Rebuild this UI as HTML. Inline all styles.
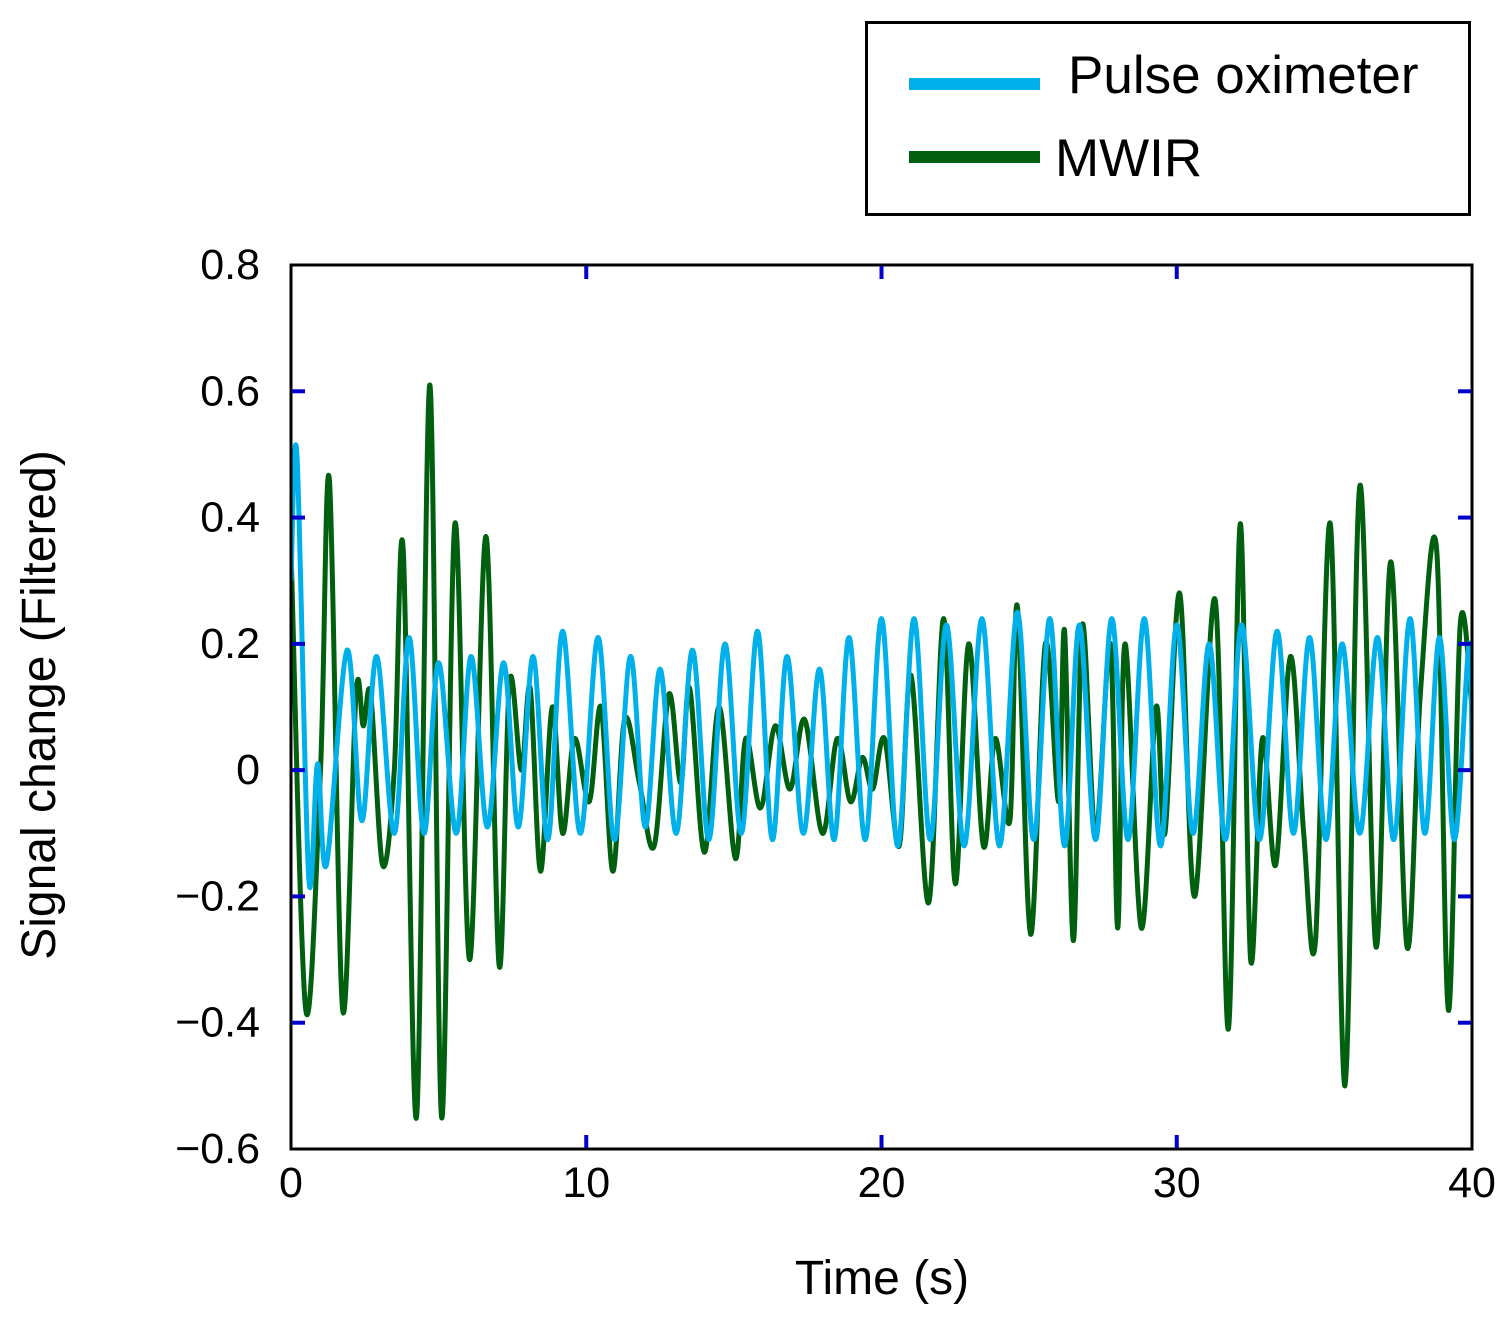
<!DOCTYPE html>
<html><head><meta charset="utf-8">
<style>
body{margin:0;background:#fff;}
svg{display:block;font-family:"Liberation Sans",Arial,sans-serif;}
</style></head>
<body>
<svg id="chart" width="1508" height="1332" viewBox="0 0 1508 1332">
<rect x="0" y="0" width="1508" height="1332" fill="#fff"/>
<g id="plot"></g>
<g id="axes"></g>
<text x="882" y="1294" font-size="48" text-anchor="middle">Time (s)</text>
<text transform="translate(55,705) rotate(-90)" font-size="48" text-anchor="middle">Signal change (Filtered)</text>
<g>
<rect x="866.5" y="22.5" width="603" height="192" fill="#fff" stroke="#000" stroke-width="3"/>
<line x1="909" y1="84" x2="1040" y2="84" stroke="#00b0ea" stroke-width="12"/>
<text x="1068" y="93" font-size="53">Pulse oximeter</text>
<line x1="909" y1="157" x2="1040" y2="157" stroke="#006010" stroke-width="12"/>
<text x="1055" y="176" font-size="53">MWIR</text>
</g>
</svg>
<script>
const xTicks=[0,10,20,30,40];
const yTicks=[0.8,0.6,0.4,0.2,0,-0.2,-0.4,-0.6];
const yTickLabels=["0.8","0.6","0.4","0.2","0","\u22120.2","\u22120.4","\u22120.6"];
const pulseT=[0,0.2,0.6,0.9,1.2,1.9,2.4,2.9,3.5,4.0,4.5,5.0,5.6,6.1,6.65,7.2,7.7,8.2,8.7,9.2,9.8,10.4,10.95,11.5,12.0,12.5,13.05,13.6,14.15,14.7,15.25,15.8,16.3,16.8,17.35,17.9,18.4,18.9,19.45,20.0,20.55,21.1,21.65,22.2,22.8,23.4,24.0,24.6,25.15,25.7,26.2,26.7,27.25,27.8,28.35,28.9,29.45,30.0,30.55,31.1,31.65,32.2,32.8,33.4,33.95,34.5,35.05,35.6,36.2,36.8,37.35,37.9,38.4,38.9,39.4,39.9,40];
const pulseV=[0.3,0.5,-0.17,0.01,-0.15,0.19,-0.08,0.18,-0.1,0.21,-0.1,0.17,-0.1,0.18,-0.09,0.17,-0.09,0.18,-0.11,0.22,-0.1,0.21,-0.11,0.18,-0.09,0.16,-0.1,0.19,-0.11,0.2,-0.1,0.22,-0.11,0.18,-0.1,0.16,-0.11,0.21,-0.11,0.24,-0.12,0.24,-0.11,0.23,-0.12,0.24,-0.12,0.25,-0.11,0.24,-0.12,0.23,-0.11,0.24,-0.11,0.24,-0.12,0.23,-0.1,0.2,-0.11,0.23,-0.11,0.22,-0.1,0.21,-0.11,0.2,-0.1,0.21,-0.11,0.24,-0.1,0.21,-0.11,0.2,0.0];
const mwirT=[0,0.5,1.0,1.3,1.75,2.2,2.45,2.7,3.1,3.5,3.8,4.25,4.7,5.1,5.55,6.05,6.6,7.05,7.4,7.8,8.1,8.45,8.85,9.2,9.6,10.1,10.5,10.9,11.3,11.8,12.3,12.8,13.2,13.5,14.0,14.5,15.05,15.4,15.9,16.4,16.9,17.4,18.0,18.5,18.95,19.35,19.7,20.1,20.6,21.0,21.6,22.1,22.5,22.95,23.45,23.85,24.35,24.6,25.05,25.55,26.0,26.2,26.5,26.8,27.25,27.75,28.0,28.25,28.8,29.3,29.6,30.1,30.6,31.3,31.75,32.15,32.5,32.9,33.35,33.85,34.3,34.7,35.2,35.7,36.2,36.75,37.25,37.8,38.25,38.8,39.2,39.6,40];
const mwirV=[0.35,-0.38,0.0,0.46,-0.38,0.12,0.07,0.12,-0.15,0.0,0.35,-0.55,0.61,-0.55,0.39,-0.3,0.37,-0.31,0.14,0.0,0.13,-0.16,0.1,-0.1,0.05,-0.05,0.1,-0.16,0.08,-0.02,-0.12,0.12,-0.02,0.13,-0.13,0.1,-0.14,0.05,-0.06,0.07,-0.03,0.08,-0.1,0.05,-0.05,0.02,-0.03,0.05,-0.12,0.15,-0.21,0.24,-0.18,0.2,-0.12,0.05,-0.08,0.26,-0.26,0.2,-0.05,0.22,-0.27,0.23,-0.1,0.2,-0.25,0.2,-0.25,0.1,-0.1,0.28,-0.2,0.27,-0.41,0.39,-0.3,0.05,-0.15,0.18,-0.1,-0.27,0.39,-0.5,0.45,-0.28,0.33,-0.28,0.12,0.35,-0.38,0.23,0.1];

const X0=291,X1=1472,Y0=1149,Y1=265,tMin=0,tMax=40,vMin=-0.6,vMax=0.8;
function sx(t){return X0+(t-tMin)/(tMax-tMin)*(X1-X0);}
function sy(v){return Y0-(v-vMin)/(vMax-vMin)*(Y0-Y1);}
const NS="http://www.w3.org/2000/svg";
function mk(tag,attrs,parent){const e=document.createElementNS(NS,tag);for(const k in attrs)e.setAttribute(k,attrs[k]);parent.appendChild(e);return e;}
function smoothPath(ts,vs){
  const p=ts.map((t,i)=>[sx(t),sy(vs[i])]);
  let d="M"+p[0][0].toFixed(1)+","+p[0][1].toFixed(1);
  for(let i=0;i<p.length-1;i++){
    const p0=p[Math.max(0,i-1)],p1=p[i],p2=p[i+1],p3=p[Math.min(p.length-1,i+2)];
    const c1=[p1[0]+(p2[0]-p0[0])/6,p1[1]+(p2[1]-p0[1])/6];
    const c2=[p2[0]-(p3[0]-p1[0])/6,p2[1]-(p3[1]-p1[1])/6];
    d+=" C"+c1[0].toFixed(1)+","+c1[1].toFixed(1)+" "+c2[0].toFixed(1)+","+c2[1].toFixed(1)+" "+p2[0].toFixed(1)+","+p2[1].toFixed(1);
  }
  return d;
}
const plot=document.getElementById('plot');
const axes=document.getElementById('axes');
const cp=mk('clipPath',{id:'clip'},plot);
mk('rect',{x:X0,y:Y1,width:X1-X0,height:Y0-Y1},cp);
const g=mk('g',{'clip-path':'url(#clip)'},plot);
const mw=mk('path',{d:smoothPath(mwirT,mwirV),fill:'none',stroke:'#006010','stroke-width':5,'stroke-linejoin':'round'},g);


const pl=mk('path',{d:smoothPath(pulseT,pulseV),fill:'none',stroke:'#00b0ea','stroke-width':5,'stroke-linejoin':'round'},g);



const frame=mk('rect',{x:X0,y:Y1,width:X1-X0,height:Y0-Y1,fill:'none',stroke:'#000','stroke-width':3},axes);


xTicks.forEach(t=>{
  const x=sx(t);
  if(t>tMin&&t<tMax){
    const a=mk('line',{x1:x,y1:Y0-1,x2:x,y2:Y0-14,stroke:'#0000cc','stroke-width':4},axes);
    
    
    const b=mk('line',{x1:x,y1:Y1+1,x2:x,y2:Y1+14,stroke:'#0000cc','stroke-width':4},axes);
    
    
  }
  const l=mk('text',{x:x,y:1197,'font-size':43,'text-anchor':'middle'},axes);
  l.textContent=String(t);
  
  
});
yTicks.forEach((v,i)=>{
  const y=sy(v);
  if(v>vMin&&v<vMax){
    const a=mk('line',{x1:X0+1,y1:y,x2:X0+14,y2:y,stroke:'#0000cc','stroke-width':4},axes);
    
    
    const b=mk('line',{x1:X1-1,y1:y,x2:X1-14,y2:y,stroke:'#0000cc','stroke-width':4},axes);
    
    
  }
  const l=mk('text',{x:260,y:y+14,'font-size':43,'text-anchor':'end'},axes);
  l.textContent=yTickLabels[i];
  
  
});
</script>
</body></html>
